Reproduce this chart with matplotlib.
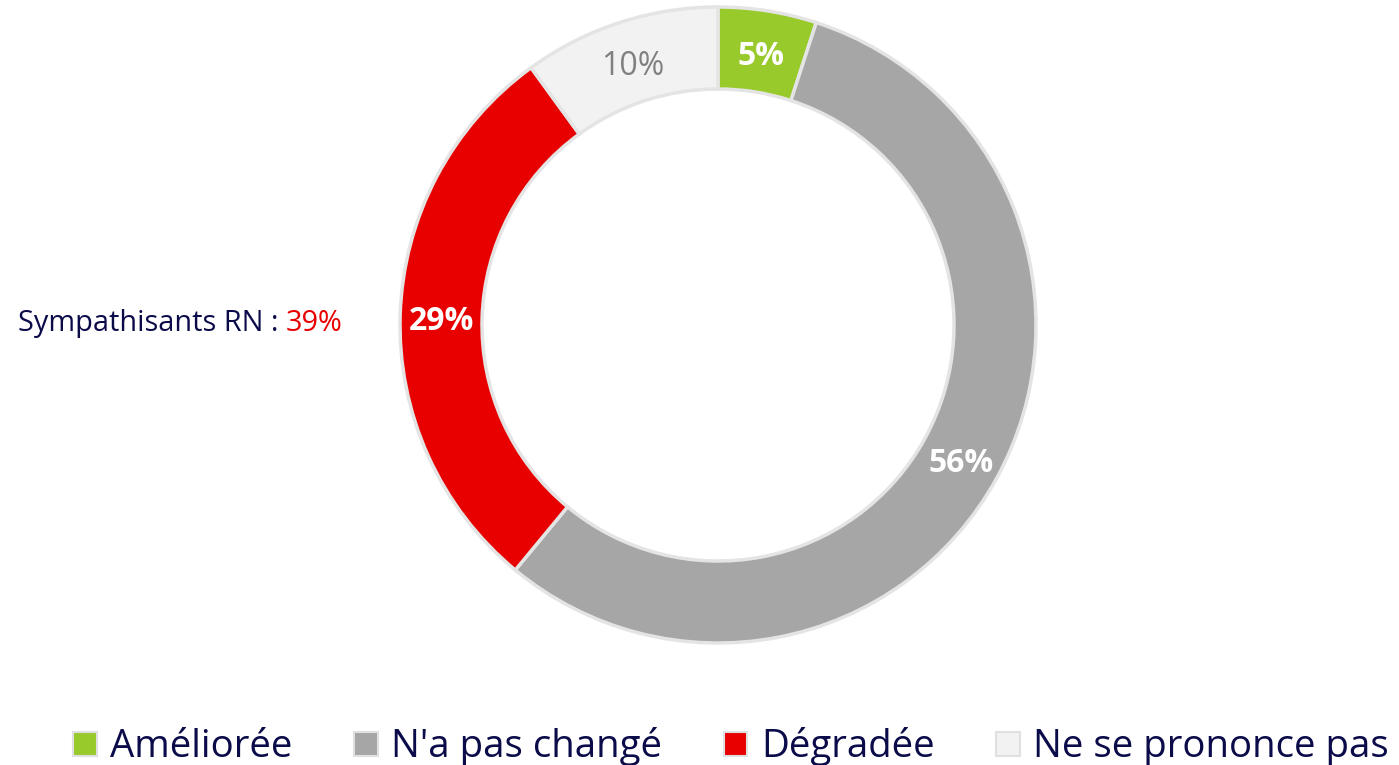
import numpy as np
import matplotlib.pyplot as plt
from matplotlib.patches import Patch

categories = ["Améliorée", "N'a pas changé", "Dégradée", "Ne se prononce pas"]
values = [5, 56, 29, 10]
colors = ["#99CA2B", "#A6A6A6", "#E80000", "#F2F2F2"]
label_colors = ["white", "white", "white", "#808080"]
label_bold = [True, True, True, False]
side_note = "Sympathisants RN : "
side_value = "39%"

navy = "#0B0B4A"
plt.rcParams['font.family'] = ['Open Sans', 'DejaVu Sans']

W, H = 1399, 765
fig = plt.figure(figsize=(W / 100, H / 100), dpi=100)
ax = fig.add_axes([0, 0, 1, 1])

cx, cy, r_out, r_in = 718, H - 325, 318, 236
wedges, _ = ax.pie(values, colors=colors, startangle=90, counterclock=False,
                   center=(cx, cy), radius=r_out,
                   wedgeprops=dict(width=r_out - r_in, edgecolor="#E4E4E4", linewidth=2.5))
ax.set_xlim(0, W)
ax.set_ylim(0, H)
ax.set_aspect('equal')
ax.axis('off')

r_mid = (r_out + r_in) / 2
for w, v, c, b in zip(wedges, values, label_colors, label_bold):
    ang = np.deg2rad((w.theta1 + w.theta2) / 2)
    ax.text(cx + r_mid * np.cos(ang), cy + r_mid * np.sin(ang) - 5, f"{v}%",
            ha='center', va='center', color=c, fontsize=23,
            fontweight='bold' if b else 'normal')

t = ax.text(18, H - 323, side_note, ha='left', va='center', color=navy, fontsize=20.8)
fig.canvas.draw()
bb = t.get_window_extent()
ax.text(bb.x1, H - 323, side_value, ha='left', va='center', color="#E80000", fontsize=20.8)

handles = [Patch(facecolor=c, edgecolor="#E0E0E0", linewidth=1.5) for c in colors]
fig.legend(handles, categories, loc='lower center', bbox_to_anchor=(0.5225, -0.047), ncol=4,
           frameon=False, fontsize=27.6, labelcolor=navy, handlelength=0.62, handleheight=0.62,
           handletextpad=0.35, columnspacing=1.6)

fig.savefig("out.png", dpi=100)
